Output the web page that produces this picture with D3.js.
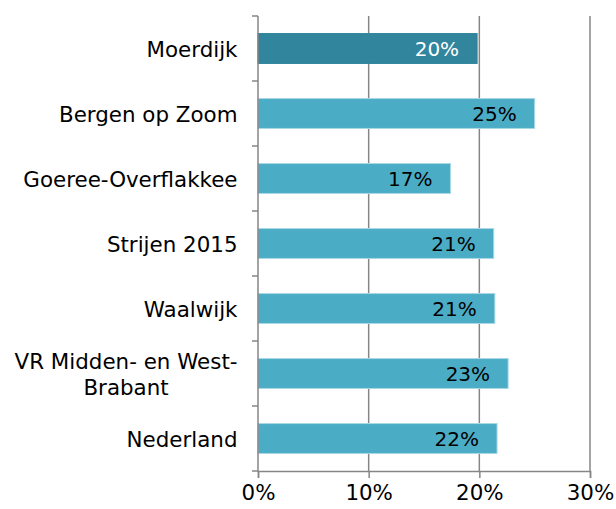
<!DOCTYPE html>
<html>
<head>
<meta charset="utf-8">
<script src="https://cdn.jsdelivr.net/npm/d3@7"></script>
<style>
  body { margin: 0; background: #fff; }
  text { font-family: Verdana, "DejaVu Sans", sans-serif; }
</style>
</head>
<body>
<div id="chart"></div>
<script>
var categories = ["Moerdijk", "Bergen op Zoom", "Goeree-Overflakkee", "Strijen 2015", "Waalwijk", "VR Midden- en West-Brabant", "Nederland"];
var values = [19.8, 25.0, 17.4, 21.3, 21.4, 22.6, 21.6];
var xTicks = [0, 10, 20, 30];

var width = 616, height = 509;
var margin = { top: 16, right: 26, bottom: 38, left: 258 };

var svg = d3.select("#chart").append("svg")
    .attr("width", width)
    .attr("height", height);

var x = d3.scaleLinear()
    .domain([0, 30])
    .range([margin.left, width - margin.right]);

var y = d3.scaleBand()
    .domain(categories)
    .range([margin.top, height - margin.bottom])
    .paddingInner(0.54)
    .paddingOuter(0.27);

var step = y.step();

// gridlines
svg.selectAll("line.grid")
    .data(xTicks.slice(1))
    .enter().append("line")
    .attr("class", "grid")
    .attr("x1", function (d) { return x(d); })
    .attr("x2", function (d) { return x(d); })
    .attr("y1", margin.top)
    .attr("y2", height - margin.bottom)
    .attr("stroke", "#868686")
    .attr("stroke-width", 1.5);

// bars
svg.selectAll("rect.bar")
    .data(categories)
    .enter().append("rect")
    .attr("class", "bar")
    .attr("x", x(0))
    .attr("y", function (d) { return y(d); })
    .attr("width", function (d, i) { return x(values[i]) - x(0); })
    .attr("height", y.bandwidth())
    .attr("fill", function (d, i) { return i == 0 ? "#31859c" : "#4bacc6"; })
    .attr("stroke", function (d, i) { return i == 0 ? "#31859c" : "#a8d8e5"; })
    .attr("stroke-width", 1);

// value labels
svg.selectAll("text.value")
    .data(categories)
    .enter().append("text")
    .attr("class", "value")
    .attr("x", function (d, i) { return x(values[i]) - 18; })
    .attr("y", function (d) { return y(d) + y.bandwidth() / 2; })
    .attr("dy", "0.38em")
    .attr("text-anchor", "end")
    .attr("font-size", "20px")
    .attr("fill", function (d, i) { return i == 0 ? "#ffffff" : "#000000"; })
    .text(function (d, i) { return Math.round(values[i]) + "%"; });

// y axis: line and ticks at band edges
var yAxis = svg.append("g").attr("class", "y-axis");
yAxis.append("line")
    .attr("x1", x(0)).attr("x2", x(0))
    .attr("y1", margin.top).attr("y2", height - margin.bottom)
    .attr("stroke", "#868686").attr("stroke-width", 1.5);
yAxis.selectAll("line.tick")
    .data(d3.range(categories.length + 1))
    .enter().append("line")
    .attr("class", "tick")
    .attr("x1", x(0) - 6).attr("x2", x(0))
    .attr("y1", function (i) { return margin.top + i * step; })
    .attr("y2", function (i) { return margin.top + i * step; })
    .attr("stroke", "#868686").attr("stroke-width", 1.5);

// category labels (wrapped like Excel, centred within block, block right aligned)
var labelRight = x(0) - 20.5;
categories.forEach(function (c) {
    var lines = c == "VR Midden- en West-Brabant" ? ["VR Midden- en West-", "Brabant"] : [c];
    var t = svg.append("text")
        .attr("font-size", "21.4px")
        .attr("fill", "#000");
    var cy = y(c) + y.bandwidth() / 2;
    var lh = 26;
    lines.forEach(function (l, k) {
        t.append("tspan")
            .attr("y", cy + (k - (lines.length - 1) / 2) * lh)
            .attr("dy", "0.38em")
            .text(l);
    });
    var maxW = 0;
    t.selectAll("tspan").each(function () {
        maxW = Math.max(maxW, this.getComputedTextLength());
    });
    t.attr("text-anchor", "middle");
    t.selectAll("tspan").attr("x", labelRight - maxW / 2);
});

// x axis
var xAxis = svg.append("g")
    .attr("transform", "translate(0," + (height - margin.bottom) + ")")
    .call(d3.axisBottom(x).tickValues(xTicks).tickSize(7).tickPadding(7)
        .tickFormat(function (d) { return d + "%"; }));
xAxis.select(".domain").attr("stroke", "#868686").attr("stroke-width", 1.5);
xAxis.selectAll(".tick line").attr("stroke", "#868686").attr("stroke-width", 1.5);
xAxis.selectAll(".tick text")
    .attr("font-size", "21.4px")
    .attr("font-family", "Verdana, 'DejaVu Sans', sans-serif")
    .attr("fill", "#000");
</script>
</body>
</html>
